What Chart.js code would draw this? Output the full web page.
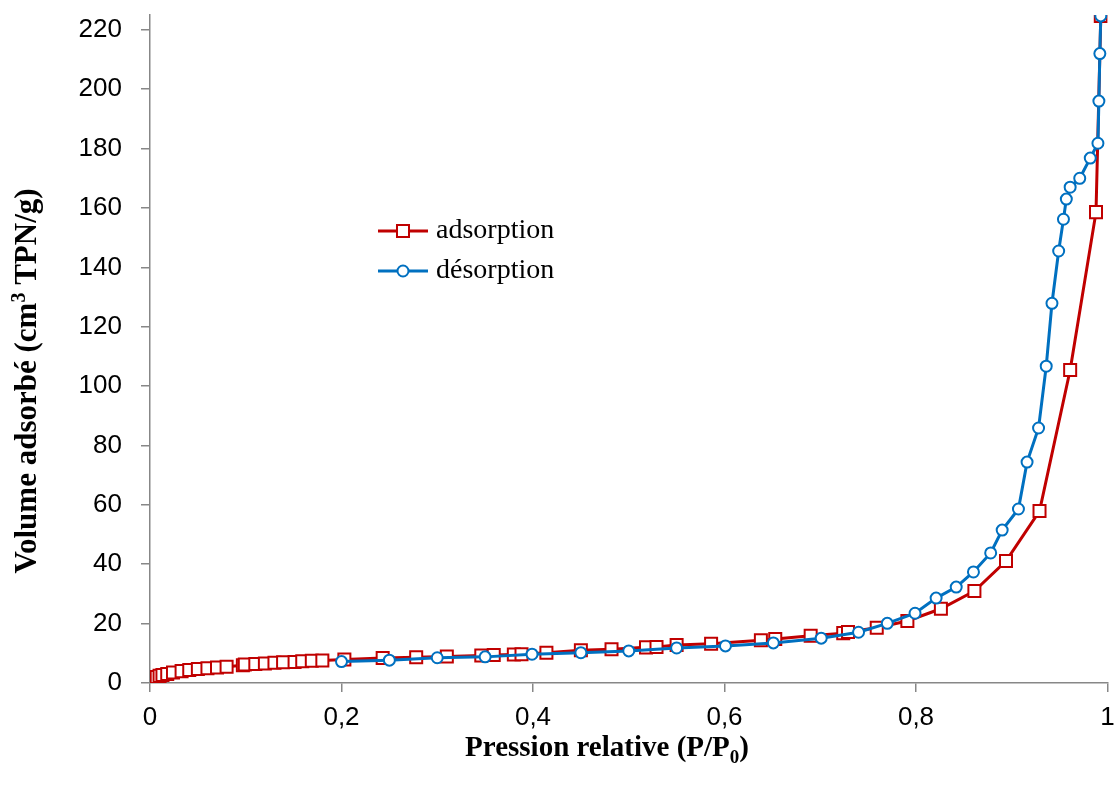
<!DOCTYPE html>
<html>
<head>
<meta charset="utf-8">
<script src="https://cdn.jsdelivr.net/npm/chart.js@4/dist/chart.umd.min.js"></script>
<style>
  body { margin: 0; background: #fff; }
  #wrap { width: 1118px; height: 791px; }
</style>
</head>
<body>
<div id="wrap"><canvas id="isotherme"></canvas></div>
<script>
// adsorption branch (P/P0, cm3 TPN/g)
var pAds = [0.0005, 0.001, 0.002, 0.003, 0.005, 0.007, 0.010, 0.013, 0.018, 0.024,
  0.033, 0.041, 0.050, 0.060, 0.070, 0.080, 0.097, 0.099, 0.110, 0.120,
  0.130, 0.139, 0.151, 0.159, 0.169, 0.180, 0.203, 0.243, 0.278, 0.310,
  0.346, 0.359, 0.380, 0.388, 0.414, 0.450, 0.482, 0.518, 0.529, 0.550,
  0.586, 0.638, 0.653, 0.690, 0.724, 0.729, 0.759, 0.791, 0.826, 0.861,
  0.894, 0.929, 0.961, 0.988, 0.993];
var vAds = [0.3, 0.6, 1.0, 1.3, 1.7, 2.0, 2.4, 2.7, 3.0, 3.5,
  4.0, 4.4, 4.7, 5.0, 5.2, 5.5, 6.0, 6.2, 6.4, 6.6,
  6.8, 7.0, 7.1, 7.3, 7.5, 7.6, 7.9, 8.4, 8.7, 8.9,
  9.3, 9.4, 9.6, 9.7, 10.2, 11.0, 11.4, 12.0, 12.1, 12.8,
  13.2, 14.4, 14.8, 15.9, 16.8, 17.2, 18.6, 20.9, 25.0, 31.0,
  41.1, 57.9, 105.4, 158.6, 224.7];

// desorption branch
var pDes = [0.993, 0.992, 0.991, 0.990, 0.982, 0.971, 0.961, 0.957, 0.954, 0.949,
  0.942, 0.936, 0.928, 0.916, 0.907, 0.890, 0.878, 0.860, 0.842, 0.821,
  0.799, 0.770, 0.740, 0.701, 0.651, 0.601, 0.550, 0.500, 0.450, 0.399,
  0.350, 0.300, 0.250, 0.200];
var vDes = [224.7, 212, 196, 181.8, 176.8, 170, 167, 163, 156.2, 145.5,
  127.9, 106.7, 85.9, 74.4, 58.6, 51.5, 43.8, 37.4, 32.3, 28.6,
  23.5, 20.1, 17.1, 15.1, 13.5, 12.5, 11.8, 10.8, 10.2, 9.7,
  8.8, 8.5, 7.7, 7.2];

var yTicks = [0, 20, 40, 60, 80, 100, 120, 140, 160, 180, 200, 220];
var xTicks = [0, 0.2, 0.4, 0.6, 0.8, 1];

var ROUGE = '#C00000';
var BLEU = '#0070C0';
var GRIS = '#878787';

function points(xs, ys) {
  var out = [];
  for (var i = 0; i < xs.length; i++) out.push({x: xs[i], y: ys[i]});
  return out;
}

// legend + axis titles drawn by hand (superscript / subscript)
var decor = {
  id: 'decor',
  afterDraw: function(chart) {
    var ctx = chart.ctx;
    ctx.save();
    // legend
    var items = [
      {label: 'adsorption', color: ROUGE, style: 'rect', r: 8.5, y: 231},
      {label: 'désorption', color: BLEU, style: 'circle', r: 5.5, y: 271}
    ];
    items.forEach(function(it) {
      ctx.strokeStyle = it.color;
      ctx.lineWidth = 3;
      ctx.beginPath();
      ctx.moveTo(378, it.y);
      ctx.lineTo(428, it.y);
      ctx.stroke();
      ctx.fillStyle = '#fff';
      ctx.lineWidth = 2;
      Chart.helpers.drawPoint(ctx, {pointStyle: it.style, radius: it.r, borderWidth: 2}, 403, it.y);
      ctx.fillStyle = '#000';
      ctx.font = '28px "Liberation Serif", "Times New Roman", serif';
      ctx.textBaseline = 'middle';
      ctx.textAlign = 'left';
      ctx.fillText(it.label, 436, it.y);
    });

    ctx.fillStyle = '#000';
    ctx.textBaseline = 'alphabetic';
    ctx.textAlign = 'left';

    // y title
    var big = 'bold 31px "Liberation Serif", "Times New Roman", serif';
    var small = 'bold 20px "Liberation Serif", "Times New Roman", serif';
    var a = 'Volume adsorbé (cm', s = '3', b = ' TPN/g)';
    ctx.font = big; var wa = ctx.measureText(a).width, wb = ctx.measureText(b).width;
    ctx.font = small; var ws = ctx.measureText(s).width;
    var tot = wa + ws + wb;
    ctx.save();
    ctx.translate(36, 381);
    ctx.rotate(-Math.PI / 2);
    ctx.font = big; ctx.fillText(a, -tot / 2, 0);
    ctx.font = small; ctx.fillText(s, -tot / 2 + wa, -11);
    ctx.font = big; ctx.fillText(b, -tot / 2 + wa + ws, 0);
    ctx.restore();

    // x title
    big = 'bold 29px "Liberation Serif", "Times New Roman", serif';
    small = 'bold 19px "Liberation Serif", "Times New Roman", serif';
    var c = 'Pression relative (P/P', d = '0', e = ')';
    ctx.font = big; var wc = ctx.measureText(c).width, we = ctx.measureText(e).width;
    ctx.font = small; var wd = ctx.measureText(d).width;
    var tx = 607 - (wc + wd + we) / 2, ty = 756;
    ctx.font = big; ctx.fillText(c, tx, ty);
    ctx.font = small; ctx.fillText(d, tx + wc, ty + 7);
    ctx.font = big; ctx.fillText(e, tx + wc + wd, ty);
    ctx.restore();
  }
};

var ctx = document.getElementById('isotherme').getContext('2d');
var isotherme = new Chart(ctx, {
  type: 'scatter',
  data: {
    datasets: [{
      label: 'adsorption',
      data: points(pAds, vAds),
      showLine: true,
      borderColor: ROUGE,
      borderWidth: 3,
      tension: 0,
      pointStyle: 'rect',
      pointRadius: 8.5,
      pointBorderWidth: 2,
      pointBorderColor: ROUGE,
      pointBackgroundColor: '#fff',
      order: 2
    }, {
      label: 'désorption',
      data: points(pDes, vDes),
      showLine: true,
      borderColor: BLEU,
      borderWidth: 3,
      tension: 0,
      pointStyle: 'circle',
      pointRadius: 5.5,
      pointBorderWidth: 2,
      pointBorderColor: BLEU,
      pointBackgroundColor: '#fff',
      order: 1
    }]
  },
  options: {
    responsive: true,
    maintainAspectRatio: false,
    animation: false,
    layout: { padding: { top: 15, right: 8, left: 0, bottom: 0 } },
    plugins: {
      legend: { display: false },
      tooltip: { enabled: false }
    },
    scales: {
      x: {
        type: 'linear',
        min: 0,
        max: 1,
        afterBuildTicks: function(scale) {
          scale.ticks = xTicks.map(function(v) { return {value: v}; });
        },
        afterFit: function(scale) {
          scale.height = 108;
          scale.paddingLeft = 0;
          scale.paddingRight = 0;
        },
        ticks: {
          color: '#000',
          padding: 10,
          maxRotation: 0,
          font: { family: '"Liberation Sans", Arial, sans-serif', size: 26 },
          callback: function(v) { return String(Math.round(v * 10) / 10).replace('.', ','); }
        },
        grid: { drawOnChartArea: false, drawTicks: true, tickLength: 9, color: GRIS, lineWidth: 1.5 },
        border: { display: true, color: GRIS, width: 1.5 }
      },
      y: {
        type: 'linear',
        min: 0,
        max: 225,
        afterBuildTicks: function(scale) {
          scale.ticks = yTicks.map(function(v) { return {value: v}; });
        },
        afterFit: function(scale) {
          scale.width = 150;
          scale.paddingTop = 0;
          scale.paddingBottom = 0;
        },
        ticks: {
          color: '#000',
          padding: 19,
          font: { family: '"Liberation Sans", Arial, sans-serif', size: 26 }
        },
        grid: { drawOnChartArea: false, drawTicks: true, tickLength: 9, color: GRIS, lineWidth: 1.5 },
        border: { display: true, color: GRIS, width: 1.5 }
      }
    }
  },
  plugins: [decor]
});
</script>
</body>
</html>
